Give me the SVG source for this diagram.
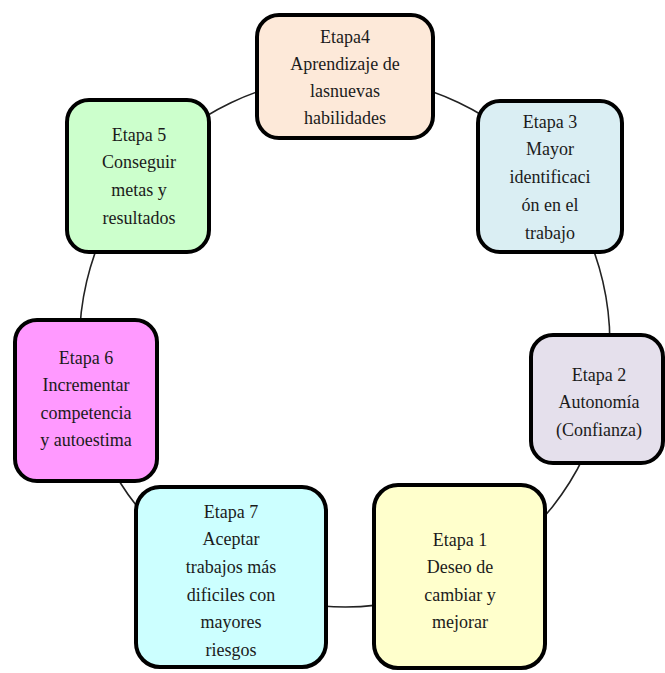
<svg xmlns="http://www.w3.org/2000/svg" width="665" height="673" viewBox="0 0 665 673">
  <style>
    .box { stroke: #000; stroke-width: 4; }
    .lbl { font-family: "Liberation Serif", "Times New Roman", serif; font-size: 18px; fill: #1b1b1b; text-anchor: middle; }
    .link { fill: none; stroke: #222; stroke-width: 1.6; }
  </style>
  <rect width="665" height="673" fill="#fff"/>

  <!-- ring of connectors, centre (345,342), radius 265 -->
  <g id="connectors">
    <path class="link" d="M462,580 A265,265 0 0 0 603,401"/>
    <path class="link" d="M603,401 A265,265 0 0 0 550,174"/>
    <path class="link" d="M550,174 A265,265 0 0 0 345,77"/>
    <path class="link" d="M345,77 A265,265 0 0 0 139,175"/>
    <path class="link" d="M139,175 A265,265 0 0 0 86,400"/>
    <path class="link" d="M86,400 A265,265 0 0 0 229,580"/>
    <path class="link" d="M229,580 A265,265 0 0 0 462,580"/>
  </g>

  <g id="etapa4">
    <rect class="box" x="257" y="15" width="176" height="123" rx="22" fill="#FDE9D9"/>
    <text class="lbl" x="345" y="43">Etapa4</text>
    <text class="lbl" x="345" y="70">Aprendizaje de</text>
    <text class="lbl" x="345" y="97">lasnuevas</text>
    <text class="lbl" x="345" y="124">habilidades</text>
  </g>

  <g id="etapa5">
    <rect class="box" x="67" y="100" width="142" height="152" rx="22" fill="#CCFFCC"/>
    <text class="lbl" x="139" y="141">Etapa 5</text>
    <text class="lbl" x="139" y="168">Conseguir</text>
    <text class="lbl" x="139" y="196">metas y</text>
    <text class="lbl" x="139" y="224">resultados</text>
  </g>

  <g id="etapa3">
    <rect class="box" x="478" y="101" width="144" height="151" rx="22" fill="#DAEEF3"/>
    <text class="lbl" x="550" y="128">Etapa 3</text>
    <text class="lbl" x="550" y="155">Mayor</text>
    <text class="lbl" x="550" y="183">identificaci</text>
    <text class="lbl" x="550" y="211">ón en el</text>
    <text class="lbl" x="550" y="239">trabajo</text>
  </g>

  <g id="etapa6">
    <rect class="box" x="15" y="320" width="142" height="161" rx="22" fill="#FF99FF"/>
    <text class="lbl" x="86" y="364">Etapa 6</text>
    <text class="lbl" x="86" y="391">Incrementar</text>
    <text class="lbl" x="86" y="419">competencia</text>
    <text class="lbl" x="86" y="446">y autoestima</text>
  </g>

  <g id="etapa2">
    <rect class="box" x="531" y="335" width="132" height="128" rx="22" fill="#E5E0EC"/>
    <text class="lbl" x="599" y="381">Etapa 2</text>
    <text class="lbl" x="599" y="408">Autonomía</text>
    <text class="lbl" x="599" y="436">(Confianza)</text>
  </g>

  <g id="etapa7">
    <rect class="box" x="136" y="487" width="190" height="180" rx="24" fill="#CCFFFF"/>
    <text class="lbl" x="231" y="518">Etapa 7</text>
    <text class="lbl" x="231" y="545">Aceptar</text>
    <text class="lbl" x="231" y="573">trabajos más</text>
    <text class="lbl" x="231" y="601">dificiles con</text>
    <text class="lbl" x="231" y="628">mayores</text>
    <text class="lbl" x="231" y="656">riesgos</text>
  </g>

  <g id="etapa1">
    <rect class="box" x="374" y="485" width="171" height="183" rx="24" fill="#FFFFCC"/>
    <text class="lbl" x="460" y="546">Etapa 1</text>
    <text class="lbl" x="460" y="573">Deseo de</text>
    <text class="lbl" x="460" y="601">cambiar y</text>
    <text class="lbl" x="460" y="628">mejorar</text>
  </g>
</svg>
